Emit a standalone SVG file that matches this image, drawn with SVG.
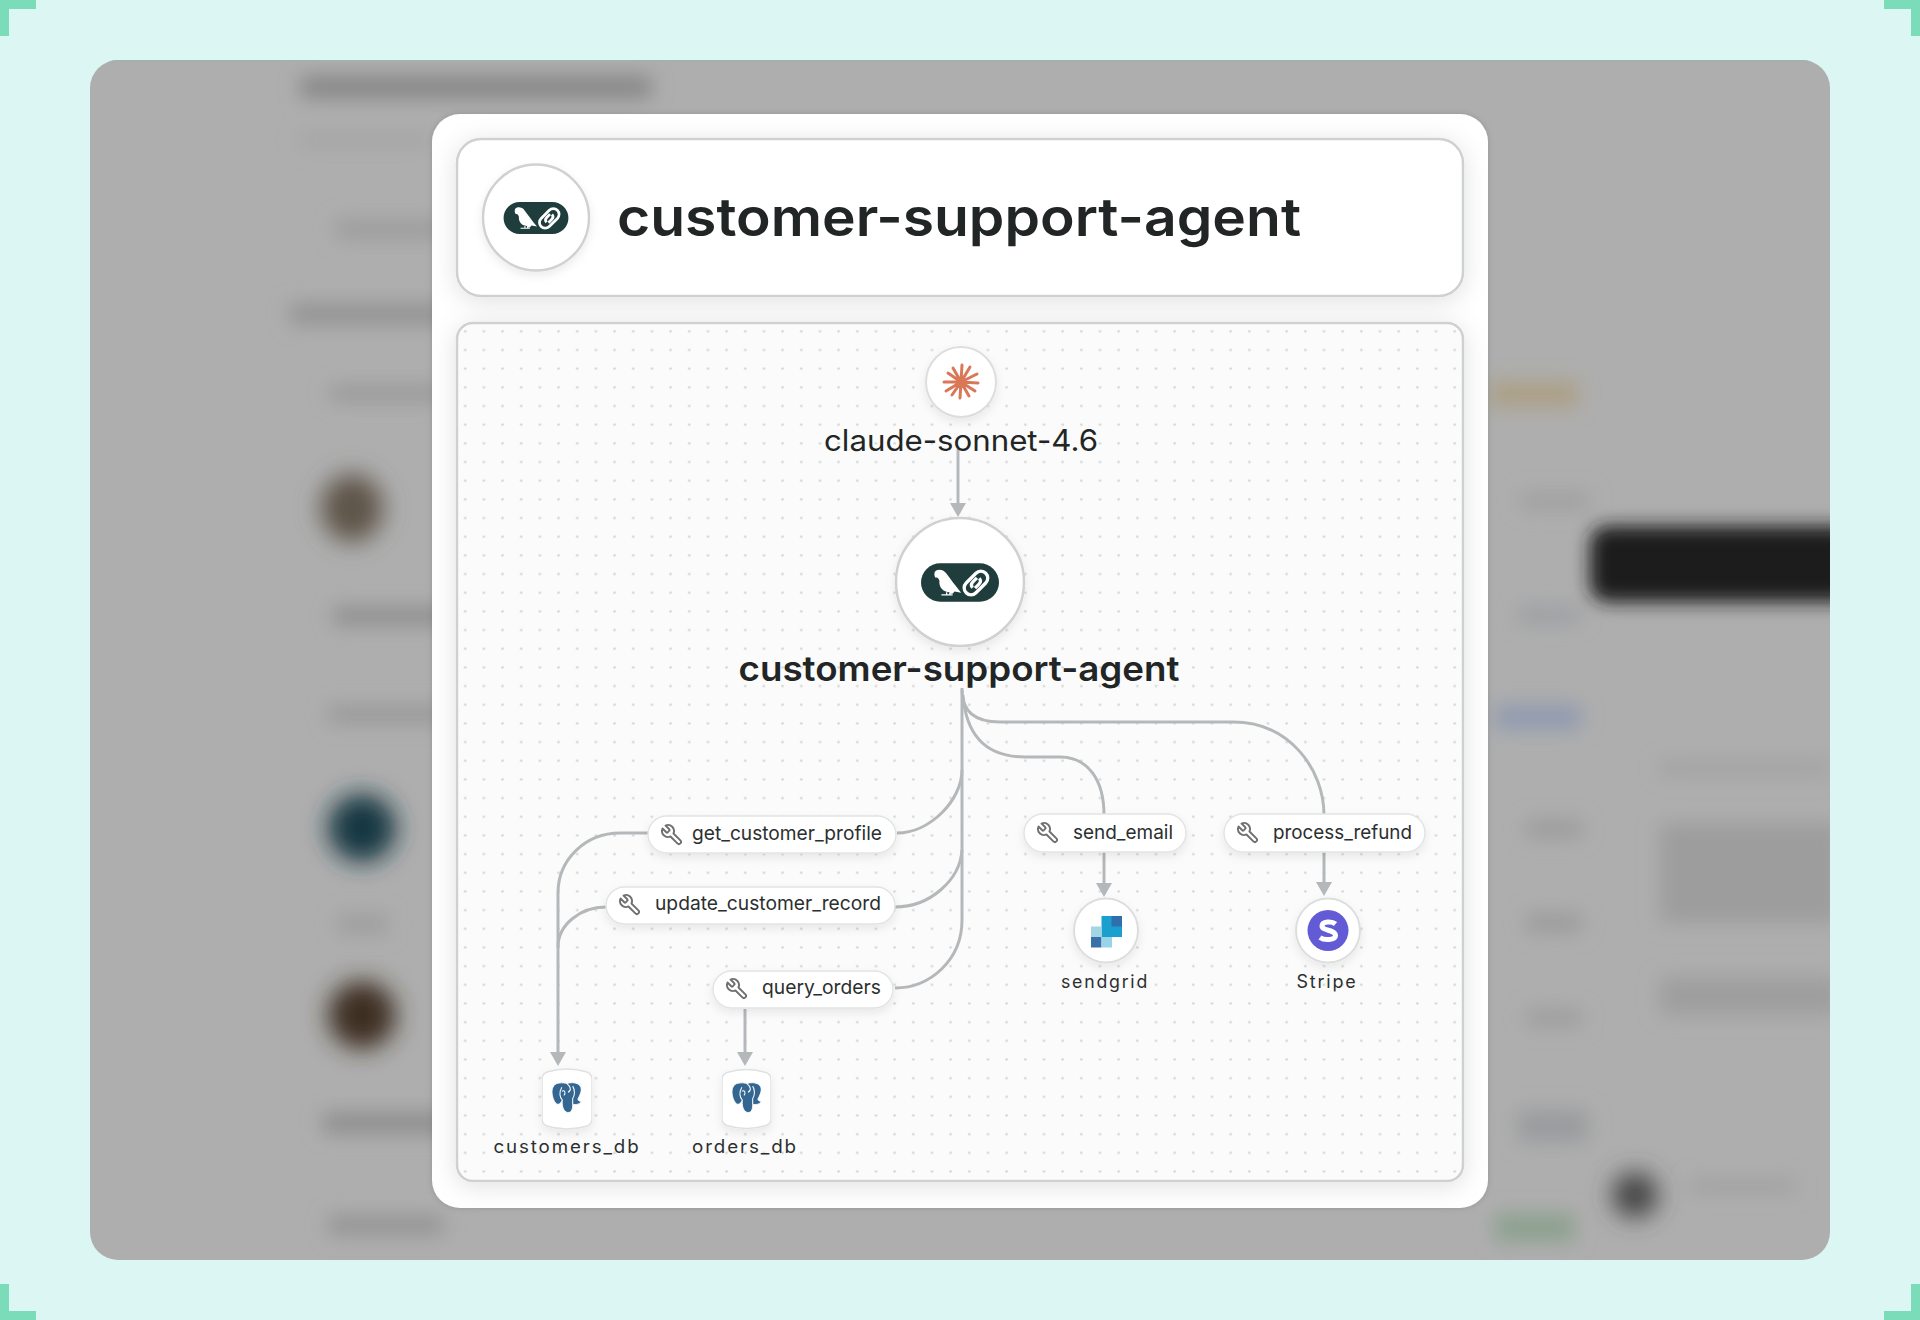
<svg xmlns="http://www.w3.org/2000/svg" width="1920" height="1320" viewBox="0 0 1920 1320">
<style>
text{font-family:"Inter","Liberation Sans",sans-serif;fill:#222525}
.pill{fill:#fff;stroke:#e2e4e4;stroke-width:1.5;filter:url(#soft)}
.ring{fill:#fff;stroke:#dcdedd;stroke-width:2;filter:url(#soft)}
.ring2{fill:#fff;stroke:#d0d2d2;stroke-width:2.5;filter:url(#soft)}
.tool{font-size:19px;font-weight:400;fill:#2c2f2f}
.svc{font-size:18px;font-weight:400;letter-spacing:.1em;fill:#2c2f2f}
.edge{fill:none;stroke:#b5b8ba;stroke-width:3}
.arr{marker-end:url(#arrow)}
.box{stroke:#cfd1d1;stroke-width:2.5}
</style>
<defs>
<filter id="blur" x="-30%" y="-150%" width="160%" height="400%"><feGaussianBlur stdDeviation="10"/></filter>
<filter id="blurA" x="-50%" y="-50%" width="200%" height="200%"><feGaussianBlur stdDeviation="12"/></filter>
<filter id="blurD" x="-20%" y="-50%" width="140%" height="200%"><feGaussianBlur stdDeviation="9"/></filter>
<filter id="soft" x="-30%" y="-40%" width="160%" height="200%"><feDropShadow dx="0" dy="4" stdDeviation="5" flood-color="#000" flood-opacity=".08"/></filter>
<filter id="cardS" x="-10%" y="-10%" width="120%" height="120%"><feDropShadow dx="0" dy="0" stdDeviation="3" flood-color="#000" flood-opacity=".15"/></filter>
<filter id="boxS" x="-5%" y="-20%" width="110%" height="140%"><feDropShadow dx="0" dy="4" stdDeviation="12" flood-color="#000" flood-opacity=".12"/></filter>
<clipPath id="panelClip"><rect x="90" y="60" width="1740" height="1200" rx="28"/></clipPath>
<pattern id="dots" width="18.67" height="18.67" patternUnits="userSpaceOnUse" patternTransform="translate(7.800 4.600)"><circle cx="9.330" cy="9.330" r="1.300" fill="#d4d5d5"/></pattern>
<marker id="arrow" viewBox="0 0 14 16" refX="0" refY="8" markerWidth="14" markerHeight="16" markerUnits="userSpaceOnUse" orient="auto"><path d="M0 0L14 8L0 16Z" fill="#b5b8ba"/></marker>
<symbol id="lc" viewBox="0 0 237 117">
<rect width="237" height="117" rx="58.500" fill="#1e3d3c"/>
<path d="M42 26C48 16 68 18 76 30C88 46 104 68 122 90L102 86L96 93H86L88 88C66 88 54 72 56 54C54 46 50 42 44 44C40 38 40 32 42 26Z" fill="#fff"/>
<path d="M62 96H96M78 88V96M88 88V96" stroke="#fff" stroke-width="4" fill="none"/>
<g transform="rotate(-45 167 60)" fill="none" stroke="#fff" stroke-width="10"><rect x="125" y="39" width="84" height="42" rx="21"/><path d="M154 69H170C178 69 184 65 184 57M180 51H164C156 51 150 55 150 63"/></g>
</symbol>
<symbol id="wrench" viewBox="0 0 24 24"><g transform="translate(24 0) scale(-1 1)"><path d="M14.700 6.300a1 1 0 0 0 0 1.400l1.600 1.600a1 1 0 0 0 1.400 0l3.770-3.770a6 6 0 0 1-7.940 7.940l-6.910 6.910a2.120 2.120 0 0 1-3-3l6.910-6.910a6 6 0 0 1 7.940-7.940l-3.760 3.760z" fill="none" stroke="#6e7070" stroke-width="1.900" stroke-linejoin="round"/></g></symbol>
<symbol id="pg" viewBox="0 0 30 30">
<path d="M8 1C3 1 0.500 5 0.500 9.500C0.500 14.500 3 21 6 21.500C8 22 9.500 19.500 10.500 17.500C10 22 11 28.500 15.500 29.500C20 30 20.500 25 20.500 21.500C23 22.500 27.500 21.500 29 19C27 18.500 25.500 18 25.500 16.500C28.500 11 30.500 6 26.500 2.500C22.500 0 18 .5 15 1.500C13 1 10 .5 8 1Z" fill="#336791" stroke="#fff" stroke-width=".8"/>
<path d="M10 5C7 10 8 15 10.500 17.500M10 9C13 7 14 11 12 13M20.500 4C23 8 22.500 13 20.500 16V21.500M15 1.500C18 4 20 8 16 10" fill="none" stroke="#fff" stroke-width="1"/>
</symbol>
<symbol id="cyl" viewBox="0 0 50 66"><path d="M5 6Q25 0 45 6Q50 8 50 13V53Q50 58 45 60Q25 66 5 60Q0 58 0 53V13Q0 8 5 6Z" fill="#fff" stroke="#dfe1e1" stroke-width="1.500"/></symbol>
</defs>

<rect width="1920" height="1320" fill="#dcf7f3"/>
<g fill="#7adcb9">
<path d="M0 0H36V9H9V36H0Z"/>
<path d="M1920 0H1884V9H1911V36H1920Z"/>
<path d="M0 1320H36V1311H9V1284H0Z"/>
<path d="M1920 1320H1884V1311H1911V1284H1920Z"/>
</g>

<rect x="90" y="60" width="1740" height="1200" rx="28" fill="#aeaeae"/>
<g clip-path="url(#panelClip)">
<g filter="url(#blur)">
<rect x="300" y="76" width="352" height="22" rx="6" fill="#868686"/>
<rect x="300" y="132" width="130" height="16" fill="#a5a5a5"/>
<rect x="335" y="220" width="110" height="18" fill="#9b9b9b"/>
<rect x="290" y="304" width="160" height="20" fill="#929292"/>
<rect x="330" y="386" width="115" height="15" fill="#979797"/>
<rect x="333" y="607" width="115" height="18" fill="#8e8e8e"/>
<rect x="328" y="707" width="120" height="15" fill="#959595"/>
<rect x="338" y="915" width="50" height="18" fill="#9c9c9c"/>
<rect x="323" y="1113" width="125" height="20" fill="#8c8c8c"/>
<rect x="328" y="1216" width="115" height="18" fill="#929292"/>
<rect x="1490" y="382" width="88" height="24" fill="#ac9f82"/>
<rect x="1520" y="493" width="70" height="16" fill="#9f9f9f"/>
<rect x="1518" y="607" width="62" height="16" fill="#9b9ea2"/>
<rect x="1495" y="705" width="86" height="24" fill="#8f9ab0"/>
<rect x="1660" y="762" width="170" height="12" fill="#9f9f9f"/>
<rect x="1526" y="821" width="56" height="16" fill="#999"/>
<rect x="1526" y="914" width="56" height="18" fill="#9a9a9a"/>
<rect x="1526" y="1010" width="56" height="16" fill="#9b9b9b"/>
<rect x="1518" y="1110" width="70" height="32" fill="#9a9b9e"/>
<rect x="1690" y="1180" width="106" height="12" fill="#9e9e9e"/>
<rect x="1495" y="1214" width="80" height="27" fill="#8ba08e"/>
<rect x="1660" y="823" width="180" height="100" fill="#9d9d9d"/>
<rect x="1660" y="977" width="180" height="38" fill="#9e9e9e"/>
</g>
<g filter="url(#blurA)">
<ellipse cx="352" cy="508" rx="31" ry="34" fill="#5f5448"/>
<ellipse cx="362" cy="828" rx="34" ry="34" fill="#173942"/>
<ellipse cx="362" cy="1015" rx="34" ry="34" fill="#3d2d22"/>
<circle cx="1635" cy="1195" r="23" fill="#444"/>
</g>
<rect x="1590" y="526" width="270" height="76" rx="18" fill="#1b1b1d" filter="url(#blurD)"/>
<rect x="90" y="58" width="1740" height="4" fill="#a4b0ae"/>
</g>

<rect id="card" x="432" y="114" width="1056" height="1094" rx="28" fill="#fff" filter="url(#cardS)"/>
<rect x="457" y="139" width="1006" height="157" rx="24" fill="#fff" class="box" filter="url(#boxS)"/>
<rect x="457" y="323" width="1006" height="858" rx="16" fill="#fbfbfb" class="box" filter="url(#boxS)"/>
<rect x="459" y="325" width="1002" height="854" rx="14" fill="url(#dots)"/>

<g id="header">
<circle class="ring2" cx="536" cy="217.500" r="53"/>
<use href="#lc" x="503" y="202" width="66" height="32"/>
<text x="617" y="236" font-size="53" font-weight="600" textLength="684" lengthAdjust="spacingAndGlyphs">customer-support-agent</text>
</g>

<g id="connectors">
<path class="edge arr" d="M958 449V503"/>
<path class="edge" d="M962 688V920C962 960 930 988 895 988"/>
<path class="edge" d="M962 770C962 800 930 833 897 833"/>
<path class="edge" d="M962 850C960 880 930 907 895 907"/>
<path class="edge" d="M962 690C962 712 975 722 1000 722H1233C1290 722 1324 770 1324 815"/>
<path class="edge" d="M963 695C966 735 985 757 1025 757H1060C1088 757 1104 780 1104 815"/>
<path class="edge arr" d="M1104 852V883"/>
<path class="edge arr" d="M1324 852V882"/>
<path class="edge arr" d="M648 833H620C585 833 558 860 558 893V1052"/>
<path class="edge" d="M606 907C580 907 558 925 558 947"/>
<path class="edge arr" d="M745 1009V1052"/>
</g>

<g id="model">
<circle class="ring" cx="961" cy="382" r="35"/>
<g stroke="#d97757" stroke-width="3" stroke-linecap="round" transform="translate(961 382)">
<path d="M0 0L1 -17M0 0L9 -15M0 0L16 -8M0 0L17 1M0 0L14 9M0 0L8 14M0 0L-1 16M0 0L-9 13M0 0L-15 9M0 0L-17 0M0 0L-13 -9M0 0L-8 -14"/>
</g>
<text x="961" y="451" font-size="29.500" text-anchor="middle" textLength="274" lengthAdjust="spacingAndGlyphs">claude-sonnet-4.6</text>
</g>

<g id="agent">
<circle class="ring2" cx="960" cy="582" r="64"/>
<use href="#lc" x="921" y="563" width="78" height="39"/>
<text x="959" y="681" font-size="35" font-weight="600" text-anchor="middle" textLength="441" lengthAdjust="spacingAndGlyphs">customer-support-agent</text>
</g>

<g id="tool-get_customer_profile">
<rect class="pill" x="648" y="816" width="248" height="37" rx="18.500"/>
<use href="#wrench" x="660" y="823" width="24" height="24"/>
<text class="tool" x="692" y="840" textLength="190" lengthAdjust="spacingAndGlyphs">get_customer_profile</text>
</g>
<g id="tool-update_customer_record">
<rect class="pill" x="606" y="887" width="289" height="37" rx="18.500"/>
<use href="#wrench" x="618" y="893" width="24" height="24"/>
<text class="tool" x="655" y="910" textLength="226" lengthAdjust="spacingAndGlyphs">update_customer_record</text>
</g>
<g id="tool-query_orders">
<rect class="pill" x="713" y="971" width="180" height="37" rx="18.500"/>
<use href="#wrench" x="725" y="977" width="24" height="24"/>
<text class="tool" x="762" y="994" textLength="119" lengthAdjust="spacingAndGlyphs">query_orders</text>
</g>
<g id="tool-send_email">
<rect class="pill" x="1024" y="814" width="162" height="38" rx="19"/>
<use href="#wrench" x="1036" y="821" width="24" height="24"/>
<text class="tool" x="1073" y="838.500" textLength="100" lengthAdjust="spacingAndGlyphs">send_email</text>
</g>
<g id="tool-process_refund">
<rect class="pill" x="1224" y="814" width="201" height="38" rx="19"/>
<use href="#wrench" x="1236" y="821" width="24" height="24"/>
<text class="tool" x="1273" y="838.500" textLength="139" lengthAdjust="spacingAndGlyphs">process_refund</text>
</g>

<g id="sendgrid">
<circle class="ring" cx="1106" cy="930.500" r="32"/>
<rect x="1101.500" y="916" width="20.500" height="21" fill="#1a9fcf"/>
<rect x="1111.500" y="916" width="10.500" height="10.500" fill="#2f6fad"/>
<rect x="1091" y="926.500" width="10.500" height="10.500" fill="#a2d6e4"/>
<rect x="1091" y="937" width="10.500" height="10.500" fill="#3a70a8"/>
<rect x="1101.500" y="937" width="10.500" height="10.500" fill="#99d3e8"/>
<text class="svc" x="1105" y="988" text-anchor="middle" textLength="88" lengthAdjust="spacingAndGlyphs">sendgrid</text>
</g>
<g id="stripe">
<circle class="ring" cx="1328" cy="930.500" r="32"/>
<circle cx="1328" cy="930.500" r="20.500" fill="#635bd6"/>
<path d="M1335.500 924C1332 921 1322 921 1322 926C1322 931 1335.500 929.500 1335.500 935.500C1335.500 940.500 1324 940.500 1320 937.500" fill="none" stroke="#fff" stroke-width="5"/>
<text class="svc" x="1327" y="988" text-anchor="middle" textLength="61" lengthAdjust="spacingAndGlyphs">Stripe</text>
</g>
<g id="customers_db">
<use href="#cyl" x="542" y="1066" width="50" height="66" filter="url(#soft)"/>
<use href="#pg" x="551.500" y="1082" width="31" height="31"/>
<text class="svc" x="567" y="1153" text-anchor="middle" textLength="147" lengthAdjust="spacingAndGlyphs">customers_db</text>
</g>
<g id="orders_db">
<use href="#cyl" x="722" y="1066" width="49" height="66" filter="url(#soft)"/>
<use href="#pg" x="731.500" y="1082" width="31" height="31"/>
<text class="svc" x="745" y="1153" text-anchor="middle" textLength="106" lengthAdjust="spacingAndGlyphs">orders_db</text>
</g>
</svg>
